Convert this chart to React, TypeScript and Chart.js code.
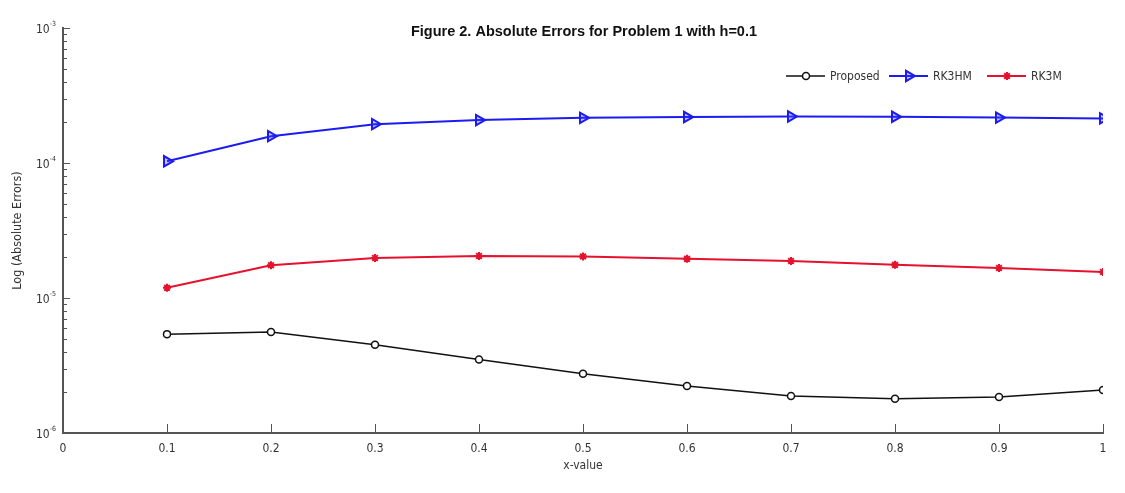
import React, { useEffect, useRef } from 'react';
import { Chart, registerables } from 'chart.js';
import { drawPoint } from 'chart.js/helpers';

Chart.register(...registerables);

// ---- data ----
const xValues = [0.1, 0.2, 0.3, 0.4, 0.5, 0.6, 0.7, 0.8, 0.9, 1.0];
const proposed = [5.4e-6, 5.6e-6, 4.5e-6, 3.5e-6, 2.75e-6, 2.23e-6, 1.88e-6, 1.79e-6, 1.85e-6, 2.08e-6];
const rk3hm = [1.03e-4, 1.58e-4, 1.94e-4, 2.08e-4, 2.16e-4, 2.19e-4, 2.21e-4, 2.2e-4, 2.17e-4, 2.14e-4];
const rk3m = [1.19e-5, 1.75e-5, 1.98e-5, 2.05e-5, 2.03e-5, 1.95e-5, 1.88e-5, 1.76e-5, 1.67e-5, 1.56e-5];
const seriesNames = ['Proposed', 'RK3HM', 'RK3M'];
const xTickLabels = ['0', '0.1', '0.2', '0.3', '0.4', '0.5', '0.6', '0.7', '0.8', '0.9', '1'];
const yDecades = [-6, -5, -4, -3];
const titleText = 'Figure 2. Absolute Errors for Problem 1 with h=0.1';
const xTitle = 'x-value';
const yTitle = 'Log (Absolute Errors)';

const FONT = "'Liberation Sans Narrow', 'DejaVu Sans Condensed', 'Liberation Sans', Arial, sans-serif";
const TITLE_FONT = "'Liberation Sans', Arial, sans-serif";
const TEXT = '#333';
const AXIS = '#555';
const LEGEND_STARTS = [786, 889, 987];

const decorPlugin = {
  id: 'decor',
  afterDraw(chart: any) {
    const { ctx, chartArea, scales } = chart;
    const xs = scales.x;
    const ys = scales.y;
    ctx.save();
    ctx.strokeStyle = AXIS;
    ctx.lineWidth = 1;
    // inward y ticks
    ys.ticks.forEach((t: any) => {
      const py = Math.round(ys.getPixelForValue(t.value)) + 0.5;
      const len = t.major ? 7 : 4;
      ctx.beginPath();
      ctx.moveTo(chartArea.left, py);
      ctx.lineTo(chartArea.left + len, py);
      ctx.stroke();
    });
    // inward x ticks
    xs.ticks.forEach((t: any) => {
      if (t.value <= 0) return;
      const px = Math.round(xs.getPixelForValue(t.value)) + 0.5;
      ctx.beginPath();
      ctx.moveTo(px, chartArea.bottom);
      ctx.lineTo(px, chartArea.bottom - 9);
      ctx.stroke();
    });
    // y labels with superscript exponents
    ctx.fillStyle = TEXT;
    ctx.textBaseline = 'alphabetic';
    yDecades.forEach((e) => {
      const py = ys.getPixelForValue(Math.pow(10, e));
      const expStr = String(e);
      ctx.font = `7px ${FONT}`;
      const ew = ctx.measureText(expStr).width;
      const right = chartArea.left - 7;
      ctx.textAlign = 'right';
      ctx.fillText(expStr, right, py - 2);
      ctx.font = `12px ${FONT}`;
      ctx.fillText('10', right - ew, py + 5);
    });
    // title
    ctx.font = `bold 14.5px ${TITLE_FONT}`;
    ctx.textAlign = 'center';
    ctx.textBaseline = 'middle';
    ctx.fillStyle = '#111';
    ctx.fillText(titleText, 584, 32);
    // legend
    ctx.font = `12px ${FONT}`;
    ctx.textAlign = 'left';
    const ly = 76;
    chart.data.datasets.forEach((ds: any, i: number) => {
      const lx = LEGEND_STARTS[i];
      ctx.strokeStyle = ds.borderColor;
      ctx.lineWidth = ds.borderWidth;
      ctx.beginPath();
      ctx.moveTo(lx, ly);
      ctx.lineTo(lx + 39, ly);
      ctx.stroke();
      ctx.fillStyle = ds.pointBackgroundColor;
      ctx.strokeStyle = ds.borderColor;
      ctx.lineWidth = ds.pointBorderWidth;
      drawPoint(ctx, { pointStyle: ds.pointStyle, rotation: ds.pointRotation || 0, radius: ds.pointRadius, borderWidth: ds.pointBorderWidth }, lx + 20, ly);
      ctx.fillStyle = TEXT;
      ctx.fillText(ds.label, lx + 44, ly + 1);
    });
    ctx.restore();
  },
};

export default function App() {
  const canvasRef = useRef<HTMLCanvasElement>(null);

  useEffect(() => {
    if (!canvasRef.current) return;
    const toPts = (arr: number[]) => arr.map((v, i) => ({ x: xValues[i], y: v }));
    const chart = new Chart(canvasRef.current, {
      type: 'line',
      data: {
        datasets: [
          {
            label: seriesNames[0],
            data: toPts(proposed),
            borderColor: '#111111',
            borderWidth: 1.5,
            pointStyle: 'circle',
            pointRadius: 3.5,
            pointBorderWidth: 1.5,
            pointBackgroundColor: '#ffffff',
            tension: 0,
          },
          {
            label: seriesNames[1],
            data: toPts(rk3hm),
            borderColor: '#1c1cf0',
            borderWidth: 2,
            pointStyle: 'triangle',
            pointRotation: 90,
            pointRadius: 6,
            pointBorderWidth: 2,
            pointBackgroundColor: 'rgba(60,60,255,0.3)',
            tension: 0,
          },
          {
            label: seriesNames[2],
            data: toPts(rk3m),
            borderColor: '#e5122e',
            borderWidth: 2,
            pointStyle: 'star',
            pointRadius: 4,
            pointBorderWidth: 2,
            pointBackgroundColor: '#e5122e',
            tension: 0,
          },
        ] as any,
      },
      options: {
        animation: false,
        responsive: false,
        maintainAspectRatio: false,
        devicePixelRatio: 1,
        layout: { padding: { top: 28, right: 22, left: 0, bottom: 0 } },
        plugins: {
          legend: { display: false },
          title: { display: false },
          tooltip: { enabled: false },
        },
        scales: {
          x: {
            type: 'linear',
            min: 0,
            max: 1,
            ticks: {
              stepSize: 0.1,
              autoSkip: false,
              maxRotation: 0,
              padding: 9,
              color: TEXT,
              font: { family: FONT, size: 12 },
              callback: (_v: any, i: number) => xTickLabels[i],
            },
            grid: { display: true, drawOnChartArea: false, drawTicks: false },
            border: { display: true, color: AXIS, width: 2 },
            title: {
              display: true,
              text: xTitle,
              color: TEXT,
              font: { family: FONT, size: 12 },
              padding: { top: 0, bottom: 20 },
            },
            afterFit: (s: any) => {
              s.height = 60;
            },
          },
          y: {
            type: 'logarithmic',
            min: 1e-6,
            max: 1e-3,
            afterBuildTicks: (s: any) => {
              const ticks: any[] = [];
              for (let e = yDecades[0]; e < yDecades[yDecades.length - 1]; e++) {
                for (let k = 1; k <= 9; k++) {
                  ticks.push({ value: k * Math.pow(10, e), major: k === 1 });
                }
              }
              ticks.push({ value: Math.pow(10, yDecades[yDecades.length - 1]), major: true });
              s.ticks = ticks;
            },
            ticks: { display: false, autoSkip: false },
            grid: { display: true, drawOnChartArea: false, drawTicks: false },
            border: { display: true, color: AXIS, width: 2 },
            title: {
              display: true,
              text: yTitle,
              color: TEXT,
              font: { family: FONT, size: 12.5 },
              padding: { top: 10, bottom: 0 },
            },
            afterFit: (s: any) => {
              s.width = 63;
            },
          },
        } as any,
      },
      plugins: [decorPlugin],
    });
    return () => chart.destroy();
  }, []);

  return (
    <div style={{ position: 'absolute', left: 0, top: 0, width: 1125, height: 493, background: '#fff' }}>
      <canvas ref={canvasRef} width={1125} height={493} />
    </div>
  );
}
